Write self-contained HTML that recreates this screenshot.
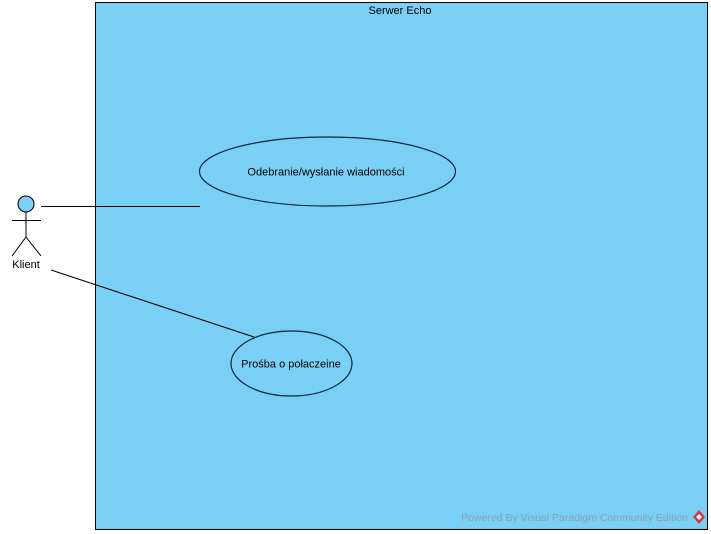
<!DOCTYPE html>
<html><head><meta charset="utf-8"><style>
html,body{margin:0;padding:0;background:#fff;width:711px;height:534px;overflow:hidden}
svg{display:block}
text{font-family:"Liberation Sans",sans-serif}
</style></head><body>
<svg width="711" height="534" viewBox="0 0 711 534" xmlns="http://www.w3.org/2000/svg">
<rect x="95.5" y="2.5" width="612" height="527" fill="#7ACFF5" stroke="#000" stroke-width="1"/>
<text x="400" y="14" font-size="11" text-anchor="middle" fill="#000">Serwer Echo</text>
<ellipse cx="327.5" cy="171.5" rx="128" ry="34.5" fill="#7ACFF5" stroke="#0b2540" stroke-width="1.2"/>
<text x="326" y="175.5" font-size="11" text-anchor="middle" fill="#000">Odebranie/wysłanie wiadomości</text>
<ellipse cx="291.5" cy="363.5" rx="60.5" ry="32.5" fill="#7ACFF5" stroke="#0b2540" stroke-width="1.2"/>
<text x="291" y="367.5" font-size="11" text-anchor="middle" fill="#000">Prośba o połaczeine</text>
<line x1="41" y1="206.5" x2="200" y2="206.5" stroke="#000"/>
<line x1="51" y1="270" x2="254" y2="337" stroke="#000"/>
<circle cx="26" cy="204" r="8" fill="#7ACFF5" stroke="#000"/>
<line x1="26" y1="212" x2="26" y2="237" stroke="#000"/>
<line x1="12" y1="220.5" x2="41" y2="220.5" stroke="#000"/>
<line x1="26" y1="237" x2="12" y2="256" stroke="#000"/>
<line x1="26" y1="237" x2="41" y2="256" stroke="#000"/>
<text x="26" y="268" font-size="11" text-anchor="middle" fill="#000">Klient</text>
<text x="688" y="521" font-size="10.5" text-anchor="end" fill="#8aa4b4">Powered By  Visual Paradigm Community Edition</text>
<path d="M699 510 L705 517 L699 524 L693 517 Z" fill="#d23a3a"/>
<path d="M699 514 L702 517 L699 520 L696 517 Z" fill="#fff"/>
</svg>
</body></html>
